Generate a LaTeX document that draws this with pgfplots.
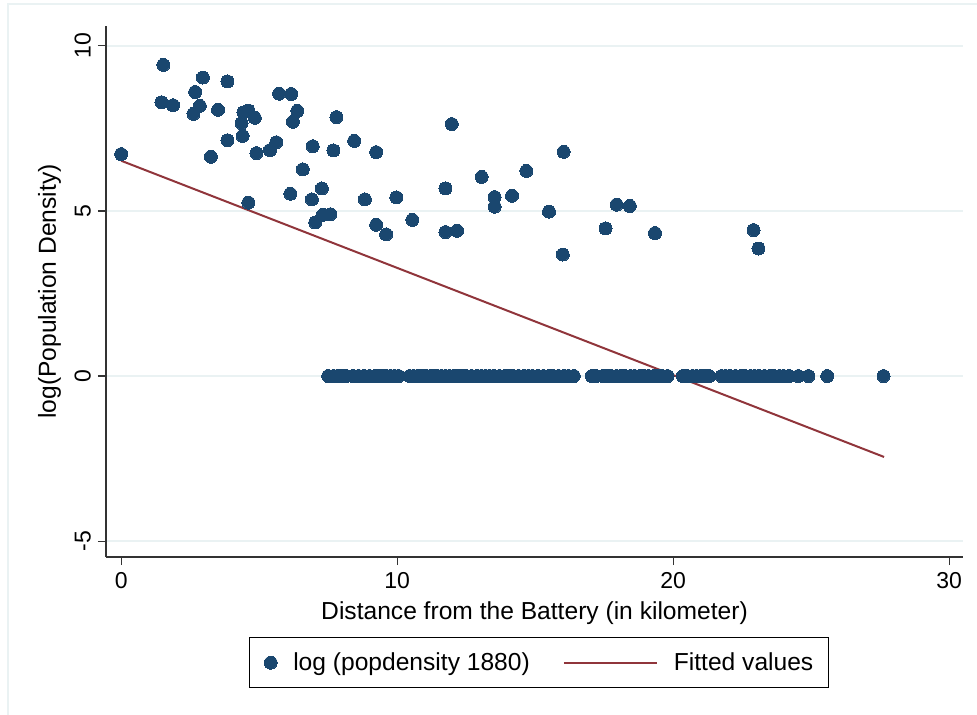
\documentclass[border=0pt]{standalone}
\usepackage{pgfplots}
\pgfplotsset{compat=1.18}
\usepackage{fontspec}
\setmainfont{Liberation Sans}
\definecolor{snavy}{HTML}{1A476F}
\definecolor{smaroon}{HTML}{90353B}
\definecolor{sgrid}{HTML}{EAF2F3}
\pgfplotsset{
  dotlegend/.style={legend image code/.code={\draw[mark repeat=2,mark phase=2,##1] plot coordinates {(0pt,0pt) (3.25pt,0pt) (6.5pt,0pt)};}},
  linelegend/.style={legend image code/.code={\draw[smaroon, line width=1pt] (0pt,0pt) -- (46.5pt,0pt);}}
}
\begin{document}
\begin{tikzpicture}[x=1pt,y=1pt]
\useasboundingbox (-53,-78.5) rectangle (435.5,278.5);
\draw[sgrid, line width=0.8pt] (-49,-80) -- (-49,276.5) -- (440,276.5);
\begin{axis}[at={(0,0)}, anchor=south west, scale only axis,
 width=428.5pt, height=265.5pt,
 xmin=-0.55, xmax=30.5, ymin=-5.48, ymax=10.6,
 axis x line*=bottom, axis y line*=left,
 xtick={0,10,20,30}, ytick={-5,0,5,10},
 tick align=outside, major tick length=4pt,
 ymajorgrids, grid style={sgrid, line width=0.9pt},
 axis line style={black!80, line width=0.6pt},
 tick style={black!80, line width=0.6pt},
 ticklabel style={font=\fontsize{11.5}{12}\selectfont},
 yticklabel style={rotate=90, anchor=south},
 /pgf/number format/assume math mode=true,
 xlabel={Distance from the Battery (in kilometer)},
 ylabel={log(Population Density)},
 label style={font=\fontsize{12.3}{14}\selectfont},
 legend style={at={(0.505,-0.199)}, anchor=center, legend columns=2,
   draw=black, line width=0.5pt, font=\fontsize{12.3}{14}\selectfont,
   inner ysep=7.2pt, inner xsep=7.5pt,
   nodes={inner xsep=0pt, inner ysep=0pt},
   /tikz/every odd column/.append style={column sep=8pt},
   /tikz/every even column/.append style={column sep=16.5pt}},
]
\addplot[only marks, mark=*, mark size=3.25pt, mark options={fill=snavy, draw=snavy, line width=0pt}, dotlegend] coordinates {
(0,6.72) (1.53,9.42) (2.96,9.04) (3.85,8.92) (2.68,8.60) (1.46,8.29) (1.88,8.20)
(2.85,8.18) (2.62,7.94) (3.51,8.06) (4.43,7.98) (4.61,8.04) (4.84,7.82) (4.36,7.66)
(5.72,8.55) (6.16,8.54) (6.38,8.03) (6.22,7.70) (7.80,7.84) (4.40,7.27) (3.85,7.14)
(5.62,7.08) (5.39,6.84) (4.90,6.75) (3.25,6.64) (6.94,6.96) (7.69,6.83) (8.44,7.12)
(9.24,6.78) (6.58,6.26) (6.13,5.52) (6.91,5.35) (7.27,5.68) (8.83,5.35) (9.97,5.41)
(4.61,5.25) (7.03,4.65) (7.31,4.88) (7.58,4.90) (9.24,4.58) (9.60,4.29) (10.55,4.73)
(11.98,7.63) (16.03,6.79) (13.06,6.03) (14.68,6.21) (11.75,5.68) (13.53,5.42)
(13.53,5.13) (14.16,5.46) (15.50,4.98) (17.95,5.19) (18.43,5.15) (11.75,4.36)
(12.17,4.40) (17.55,4.47) (19.34,4.33) (22.91,4.42) (23.09,3.86) (16.00,3.68)
(7.5,0) (7.7,0) (7.85,0) (8.0,0) (8.15,0) (8.4,0) (8.6,0) (8.8,0) (9.0,0) (9.2,0)
(9.3,0) (9.45,0) (9.6,0) (9.75,0) (9.9,0) (10.05,0)
(10.45,0) (10.6,0) (10.75,0) (10.9,0) (11.05,0) (11.2,0) (11.3,0) (11.45,0) (11.6,0)
(11.75,0) (11.9,0) (12.05,0) (12.2,0) (12.35,0) (12.5,0) (12.7,0) (12.9,0) (13.05,0)
(13.2,0) (13.35,0) (13.5,0) (13.7,0) (13.9,0) (14.05,0) (14.2,0) (14.4,0) (14.6,0)
(14.75,0) (14.9,0) (15.1,0) (15.3,0) (15.5,0) (15.65,0) (15.85,0) (16.05,0) (16.2,0)
(16.4,0)
(17.05,0) (17.2,0) (17.45,0) (17.6,0) (17.75,0) (17.95,0) (18.1,0) (18.25,0) (18.45,0)
(18.6,0) (18.8,0) (18.95,0) (19.1,0) (19.3,0) (19.45,0) (19.6,0) (19.8,0)
(20.35,0) (20.5,0) (20.7,0) (20.85,0) (21.0,0) (21.15,0) (21.3,0)
(21.75,0) (21.9,0) (22.05,0) (22.25,0) (22.45,0) (22.6,0) (22.8,0) (22.95,0) (23.1,0)
(23.3,0) (23.5,0) (23.65,0) (23.85,0) (24.0,0) (24.2,0) (24.53,0) (24.9,0) (25.58,0)
(27.62,0)
};
\addlegendentry{log (popdensity 1880)}
\addplot[smaroon, line width=1pt, linelegend] coordinates {(0,6.52) (27.64,-2.45)};
\addlegendentry{Fitted values\hspace{3pt}}
\end{axis}
\end{tikzpicture}
\end{document}
